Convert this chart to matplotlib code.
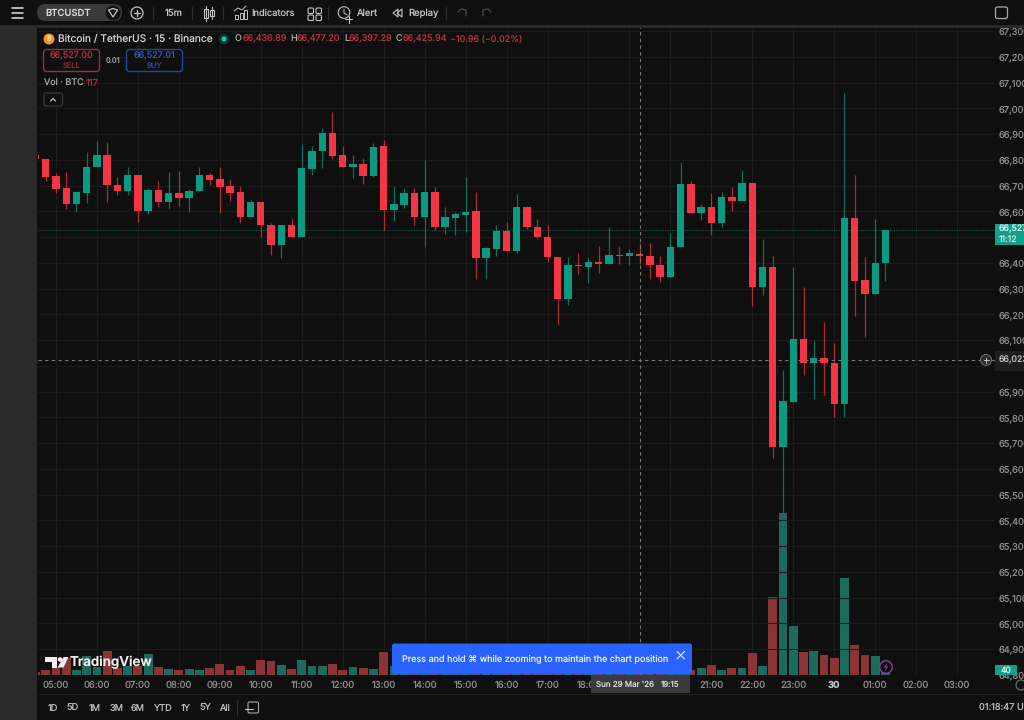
import numpy as np
import matplotlib
matplotlib.use("Agg")
import matplotlib.pyplot as plt
from matplotlib.patches import Rectangle, FancyBboxPatch, Circle, Polygon

plt.rcParams["font.family"] = ["Inter", "DejaVu Sans"]
plt.rcParams["text.hinting"] = "no_hinting"

# ----------------------------- data ------------------------------------------
# 15m candles, first one is the partly hidden candle left of 05:00
opens = [66819,66803,66738,66691,66629,66673,66771,66818,66704,66678,
         66740,66601,66683,66637,66673,66652,66678,66743,66725,66699,
         66676,66580,66637,66549,66469,66549,66502,66766,66834,66906,
         66818,66771,66784,66738,66854,66606,66627,66671,66580,66676,
         66538,66575,66588,66600,66419,66456,66526,66445,66619,66541,
         66502,66424,66261,66393,66386,66404,66396,66432,66427,66436.89,
         66427,66393,66347,66461,66707,66595,66616,66554,66655,66639,
         66712,66305,66386,65684,65860,66104,66010,66031,66013,65852,
         66575,66334,66280,66399]
highs = [66826,66804,66751,66752,66677,66830,66872,66870,66733,66774,
         66741,66690,66717,66753,66758,66687,66774,66751,66774,66726,
         66700,66645,66638,66557,66549,66576,66862,66854,66923,66986,
         66854,66818,66806,66866,66878,66700,66690,66690,66800,66694,
         66619,66599,66733,66674,66463,66546,66560,66668,66620,66570,
         66549,66425,66424,66437,66418,66466,66538,66466,66453,66477.20,
         66479,66427,66515,66793,66720,66628,66673,66677,66696,66761,
         66713,66492,66427,65984,66386,66308,66096,66171,66088,67061,
         66743,66422,66570,66527]
lows = [66803,66720,66673,66608,66599,66634,66771,66637,66665,66663,
        66559,66589,66619,66608,66621,66599,66678,66704,66593,66642,
        66554,66580,66500,66431,66421,66502,66502,66740,66770,66803,
        66771,66729,66705,66734,66528,66564,66612,66546,66463,66528,
        66513,66507,66519,66338,66336,66427,66445,66437,66533,66492,
        66405,66160,66236,66357,66324,66362,66396,66395,66391,66397.29,
        66339,66326,66347,66461,66595,66567,66509,66538,66603,66639,
        66233,66276,65641,65429,65860,65964,65870,65886,65803,65803,
        66194,66114,66280,66331]
closes = [66803,66735,66689,66629,66676,66774,66818,66702,66678,66740,
          66601,66683,66637,66673,66652,66681,66743,66722,66696,66673,
          66580,66637,66546,66469,66546,66502,66768,66836,66906,66816,
          66771,66784,66738,66850,66606,66629,66671,66580,66676,66538,
          66577,66590,66599,66419,66458,66526,66445,66619,66538,66500,
          66422,66261,66393,66387,66404,66396,66432,66427,66437,66425.94,
          66391,66347,66463,66707,66595,66616,66554,66655,66639,66712,
          66305,66386,65684,65863,66104,66010,66031,66010,65852,66575,
          66331,66280,66401,66527]
volumes = [34,61,91,194,53,213,91,274,80,99,
           99,243,91,68,57,68,61,84,129,61,
           99,53,175,160,114,72,167,99,99,122,
           53,87,80,68,266,99,75,60,95,80,
           55,45,60,130,85,70,50,110,65,50,
           70,150,120,60,45,40,55,35,30,117,
           50,55,80,140,53,76,114,61,76,84,
           251,106,889,1847,555,258,274,228,190,1110,
           342,228,220,40]

hour_labels = ["05:00","06:00","07:00","08:00","09:00","10:00","11:00","12:00","13:00",
               "14:00","15:00","16:00","17:00","18:00","","","21:00","22:00",
               "23:00","30","01:00","02:00","03:00"]   # 19:00 and 20:00 sit under the crosshair label
price_ticks = list(range(64800, 67400, 100))
covered_prices = [66000, 66500]                        # hidden by the price badges
last_price = 66527
cross_price = 66023
cross_candle = 59
range_buttons = ["1D","5D","1M","3M","6M","YTD","1Y","5Y","All"]
range_x = [53,73,95,117,138,162,186,205,225]

# ----------------------------- colours ---------------------------------------
BG = "#0f0f0f"
RED, GREEN = "#f23645", "#0a9981"
RED_VOL, GREEN_VOL = "#8a3437", "#1c6a5d"
GREY = "#8c8c8c"
LIGHT = "#c4c4c4"
W, H = 1024, 720

fig = plt.figure(figsize=(W / 100, H / 100), dpi=100, facecolor=BG)

def px_axes(left, top, right, bottom, **kw):
    return fig.add_axes([left / W, 1 - bottom / H, (right - left) / W, (bottom - top) / H], **kw)

# ----------------------------- price + volume panes ---------------------------
ax_vol = px_axes(38, 27, 995, 675, facecolor=BG)
ax = ax_vol.twinx()
ax.set_zorder(ax_vol.get_zorder() + 1)
ax.patch.set_visible(False)

x = np.arange(len(opens))
o, h, l, c = map(np.array, (opens, highs, lows, closes))
up = c >= o

ax_vol.bar(x, volumes, width=0.86, color=[GREEN_VOL if u else RED_VOL for u in up])
ax_vol.set_ylim(0, 7387)
ax_vol.set_yticks([])

ax.vlines(x, l, h, colors=[GREEN if u else RED for u in up], linewidth=0.9, alpha=0.7, zorder=3)
ax.bar(x, np.maximum(np.abs(c - o), 4), bottom=np.minimum(o, c), width=0.72,
       color=[GREEN if u else RED for u in up], zorder=4)

ax.set_xlim(0.244, 93.7)
ax.set_ylim(64800, 67316.5)
ax_vol.set_xlim(0.244, 93.7)

hour_x = np.arange(len(hour_labels)) * 4 + 2
ax.set_yticks(price_ticks)
ax.set_yticklabels(["" if p in covered_prices else f"{p:,}" for p in price_ticks])
ax.tick_params(axis="y", length=0, pad=2.5, labelsize=6.7, labelcolor=GREY)
ax_vol.set_xticks(hour_x)
ax_vol.set_xticklabels(hour_labels)
ax_vol.tick_params(axis="x", length=0, pad=4, labelsize=6.8, labelcolor=GREY)
for t in ax_vol.get_xticklabels():
    if t.get_text() == "30":
        t.set_fontweight("bold")
        t.set_color(LIGHT)
ax_vol.set_axisbelow(True)
ax_vol.grid(axis="x", color="#1b1b1b", linewidth=0.8)
ax.grid(axis="y", color="#1b1b1b", linewidth=0.8, zorder=0)
for a in (ax, ax_vol):
    for s in a.spines.values():
        s.set_visible(False)

ax.axhline(last_price, color="#0b5549", linewidth=0.8, linestyle=(0, (1, 1)), zorder=2)
ax.axhline(cross_price, color="#7a7a7a", linewidth=0.8, linestyle=(0, (3, 3)), zorder=2)
ax.axvline(cross_candle, color="#7a7a7a", linewidth=0.8, linestyle=(0, (3, 3)), zorder=5)

# ----------------------------- interface chrome (pixel coordinates) -----------
ui = px_axes(0, 0, W, H, facecolor="none")
ui.set_zorder(10)
ui.set_xlim(0, W)
ui.set_ylim(H, 0)
ui.axis("off")

def txt(px, py, s, size=9.5, color=LIGHT, ha="left", weight="normal", **kw):
    return ui.text(px, py, s, fontsize=size * 0.72, color=color, ha=ha, va="center",
                   fontweight=weight, **kw)

def box(x0, y0, x1, y1, r=2, fc="none", ec="none", lw=1, zorder=2):
    ui.add_patch(FancyBboxPatch((x0, y0), x1 - x0, y1 - y0, boxstyle=f"round,pad=0,rounding_size={r}",
                                fc=fc, ec=ec, lw=lw, zorder=zorder))

def seg(xs, ys, color=LIGHT, lw=1, **kw):
    ui.plot(xs, ys, color=color, lw=lw, solid_capstyle="round", **kw)

# left strip and toolbar border
ui.add_patch(Rectangle((0, 27), 37, H - 27, fc="#2a2a2a", ec="none"))
ui.add_patch(Rectangle((0, 0), W, 25, fc=BG, ec="none"))
seg([0, W], [26, 26], color="#2c2c2c", lw=2)
seg([38, W], [694, 694], color="#1f1f1f", lw=0.8)

# top toolbar
for yy in (8, 13, 18):
    seg([11.5, 22.5], [yy, yy], color="#e6e6e6", lw=1.1)
box(37, 4, 122, 21, r=8.5, fc="#3b3b3b")
ui.add_patch(Circle((113, 13), 7.5, fc="#111111", ec="none", zorder=3))
ui.add_patch(Polygon([[108.5, 10], [113, 8.5], [117.5, 10], [113, 17]], closed=True, fc="none",
                     ec=LIGHT, lw=0.9, zorder=4))
txt(45, 13, "BTCUSDT", size=9.5, color="#d6d6d6", weight="medium", zorder=4)
ui.add_patch(Circle((137, 13), 6, fc="none", ec=LIGHT, lw=0.9))
seg([134, 140], [13, 13], lw=0.9)
seg([137, 137], [10, 16], lw=0.9)
for sx in (153, 192, 223, 328, 446):
    seg([sx, sx], [7, 19], color="#2e2e2e", lw=0.9)
txt(174, 13.5, "15m", ha="center")
# candle icon
ui.add_patch(Rectangle((204, 9), 3.5, 9, fc="none", ec=LIGHT, lw=0.8))
seg([205.7, 205.7], [6, 21], lw=0.8)
ui.add_patch(Rectangle((210, 10), 3.5, 6, fc="none", ec=LIGHT, lw=0.8))
seg([211.7, 211.7], [7, 19], lw=0.8)
# indicators icon
for bx, bh in zip((235, 239.5, 244), (4, 6, 9)):
    ui.add_patch(Rectangle((bx, 18.5 - bh), 3.2, bh, fc="none", ec=LIGHT, lw=0.7))
seg([234, 238, 242, 246], [11, 8, 10, 6], lw=0.7)
txt(251, 13.5, "Indicators", size=9.3)
for sx in (308, 316):
    for sy in (8, 15):
        box(sx, sy, sx + 5.5, sy + 5.5, r=1.3, ec=LIGHT, lw=0.8)
# alert icon
ui.add_patch(Circle((344, 12.5), 5.8, fc="none", ec=LIGHT, lw=0.8))
seg([344, 344, 347], [9, 13, 15], lw=0.7)
seg([345, 352], [19, 19], lw=0.8)
seg([348.5, 348.5], [15.5, 22.5], lw=0.8)
txt(357, 13.5, "Alert")
# replay icon
ui.add_patch(Polygon([[398, 9], [393, 13], [398, 17]], closed=True, fc="none", ec=LIGHT, lw=0.8))
ui.add_patch(Polygon([[402, 9], [397, 13], [402, 17]], closed=True, fc="none", ec=LIGHT, lw=0.8))
txt(408, 13.5, "Replay")
seg([458, 461, 466, 466], [12, 9, 10, 16], color="#4b4b4b", lw=0.9)
seg([491, 488, 483, 483], [12, 9, 10, 16], color="#4b4b4b", lw=0.9)
box(995.5, 7, 1007.5, 18.5, r=2, ec="#a8a8a8", lw=0.9)

# legend line
ui.add_patch(Circle((49, 39), 5.5, fc="#f7931a", ec="none"))
txt(49, 39, "B", size=7, color="#ffe0b0", ha="center", weight="bold")
txt(58, 39, "Bitcoin / TetherUS · 15 · Binance", size=10.2, color="#d4d4d4")
ui.add_patch(Circle((224, 39), 5, fc="#0c3b34", ec="none"))
ui.add_patch(Circle((224, 39), 2.5, fc="#22c3a6", ec="none"))
DIM_RED = "#b8323e"
for lx, vx, lab, val in zip((235, 290, 344, 396), (243, 297, 349, 403), "OHLC",
                            ("66,436.89", "66,477.20", "66,397.29", "66,425.94")):
    txt(lx, 39, lab, size=9, color="#a8a8a8")
    txt(vx, 39, val, size=9, color=DIM_RED)
txt(450, 39, "−10.96 (−0.02%)", size=9, color=DIM_RED)

# sell / buy boxes
box(43.5, 49.5, 99.5, 71.5, r=3, ec="#96303a", fc=BG)
txt(71.5, 56, "66,527.00", size=9, color="#b8323e", ha="center")
txt(71.5, 65.5, "SELL", size=7.5, color="#8e2a34", ha="center")
txt(113, 61, "0.01", size=7.5, color="#a0a0a0", ha="center")
box(126.5, 49.5, 182.5, 71.5, r=3, ec="#27459c", fc=BG)
txt(154.5, 56, "66,527.01", size=9, color="#3558b8", ha="center")
txt(154.5, 65.5, "BUY", size=7.5, color="#2a4596", ha="center")
txt(44, 83, "Vol · BTC", size=9, color="#a8a8a8")
txt(86, 83, "117", size=9.5, color="#9c3038")
box(44, 93, 62.5, 106, r=2, ec="#3a3a3a", lw=0.9, fc=BG)
seg([50.5, 53, 55.5], [101, 98.5, 101], color=LIGHT, lw=0.9)

# price axis badges
ui.add_patch(Rectangle((995, 224), 29, 21, fc="#12a08a", ec="none"))
txt(999, 229.5, f"{last_price:,}", size=8.8, color="#e8f6f3")
txt(999, 239.8, "11:12", size=8.8, color="#cfeee8")
ui.add_patch(Rectangle((995, 351), 29, 20, fc="#1e1e1e", ec="none"))
txt(999, 360, f"{cross_price:,}", size=8.8, color="#c8c8c8")
ui.add_patch(Circle((986, 360), 5.5, fc="#2e2e2e", ec="#6e6e6e", lw=0.7))
seg([983.5, 988.5], [360, 360], lw=0.7)
seg([986, 986], [357.5, 362.5], lw=0.7)
box(995, 665, 1017, 675, r=1, fc="#12a08a")
txt(1006, 670.5, f"{volumes[-1]}", size=8.5, color="#d8f2ed", ha="center", zorder=3)

# TradingView logo
ui.add_patch(Polygon([[45, 657], [57, 657], [57, 667.5], [51.5, 667.5], [51.5, 661.5], [45, 661.5]],
                     closed=True, fc="#eeeeee", ec="none"))
ui.add_patch(Circle((60, 659.5), 2.3, fc="#eeeeee", ec="none"))
ui.add_patch(Polygon([[63.5, 657], [68.5, 657], [63.5, 667.5], [57.5, 667.5]], closed=True,
                     fc="#eeeeee", ec="none"))
txt(70, 662, "TradingView", size=13.4, color="#eeeeee", weight="semibold")

# zoom hint banner
box(392, 643.5, 692, 674.5, r=2.5, fc="#2962ff", zorder=4)
txt(402.5, 659, "Press and hold ⌘ while zooming to maintain the chart position", size=9.05,
    color="#e8eeff", zorder=5)
seg([677, 684.5], [651.5, 659], color="#e8eeff", lw=0.8, zorder=5)
seg([677, 684.5], [659, 651.5], color="#e8eeff", lw=0.8, zorder=5)

# crosshair time label
ui.add_patch(Rectangle((591, 675), 99, 18, fc="#3a3a3a", ec="none", zorder=4))
txt(596, 684.5, "Sun 29 Mar '26", size=8.0, color="#dcdcdc", zorder=5)
txt(661, 684.5, "19:15", size=8.0, color="#dcdcdc", zorder=5)

# data-update mark next to the last bar
ui.add_patch(Circle((886, 667), 6.3, fc=BG, ec="#8e3aa8", lw=1, zorder=4))
ui.add_patch(Polygon([[887.5, 662.5], [883.5, 667.5], [886, 667.5], [884.5, 671.5], [888.5, 666.5], [886, 666.5]],
                     closed=True, fc="#8e3aa8", ec="none", zorder=5))
ui.add_patch(Circle((1021, 685), 5, fc="none", ec="#6e6e6e", lw=0.9))

# bottom bar
for lab, bx in zip(range_buttons, range_x):
    txt(bx, 708, lab, size=9.2, color="#bdbdbd", ha="center")
seg([237, 237], [700, 716], color="#2e2e2e", lw=0.9)
box(248, 702, 258.5, 713, r=1.5, ec="#a8a8a8", lw=0.8)
seg([245, 253], [709, 709], color=LIGHT, lw=0.8)
txt(979, 707.5, "01:18:47 UTC", size=9.2, color="#bdbdbd")

fig.savefig("out.png", dpi=100, facecolor=BG)
